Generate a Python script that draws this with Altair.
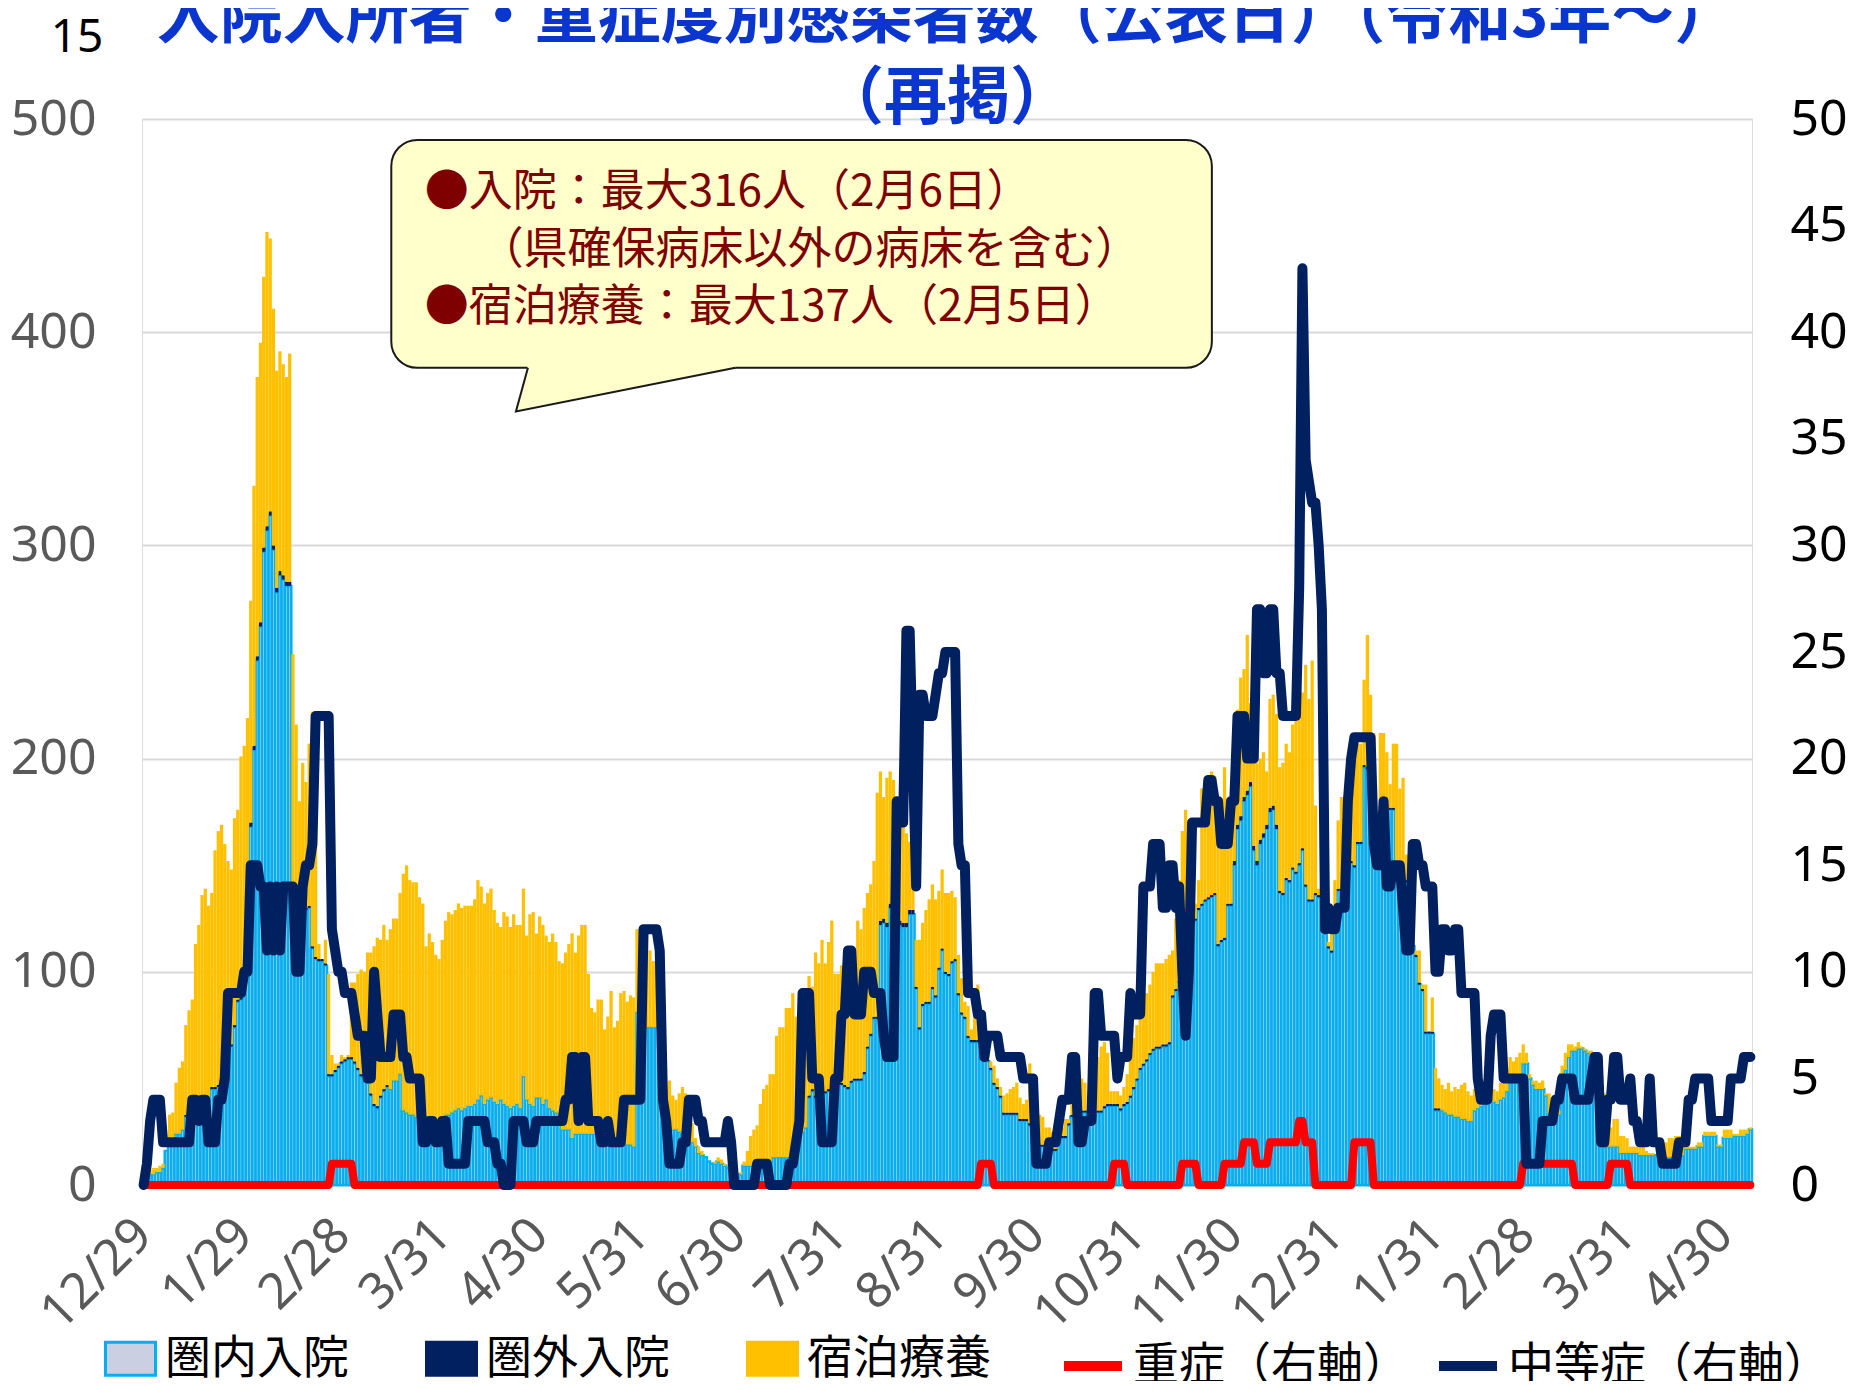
import altair as alt
import pandas as pd

START = pd.Timestamp("2021-12-29")

# total of the stacked bars (入院 + 宿泊療養), daily from 12/29
TOTAL = [
    4, 6, 7, 8, 8, 9, 10, 16, 33, 34,
    48, 55, 58, 75, 82, 87, 113, 122, 136, 139,
    131, 137, 157, 166, 169, 160, 152, 148, 172, 176,
    201, 206, 219, 274, 328, 379, 395, 426, 447, 444,
    411, 382, 391, 385, 379, 390, 249, 216, 180, 198,
    189, 207, 222, 209, 113, 106, 115, 99, 61, 57,
    57, 61, 60, 61, 95, 95, 99, 101, 100, 109,
    109, 112, 116, 115, 122, 115, 120, 125, 125, 137,
    146, 150, 143, 142, 142, 135, 132, 112, 118, 114,
    108, 106, 115, 124, 128, 127, 129, 132, 130, 131,
    131, 131, 134, 143, 140, 132, 137, 139, 129, 123,
    121, 128, 126, 121, 127, 122, 122, 139, 117, 127,
    128, 118, 126, 122, 117, 114, 118, 114, 105, 104,
    109, 113, 118, 109, 117, 122, 122, 99, 83, 81,
    87, 87, 73, 79, 91, 74, 77, 90, 91, 86,
    89, 88, 120, 113, 116, 120, 110, 105, 105, 100,
    49, 45, 49, 42, 40, 43, 46, 43, 40, 29,
    22, 18, 16, 13, 11, 10, 11, 13, 12, 10,
    8, 7, 6, 5, 6, 11, 16, 23, 26, 28,
    38, 45, 47, 52, 52, 70, 74, 74, 83, 83,
    90, 79, 66, 84, 88, 98, 93, 109, 104, 115,
    104, 114, 124, 99, 99, 103, 100, 93, 111, 108,
    124, 120, 130, 137, 141, 152, 184, 194, 182, 191,
    194, 190, 182, 175, 168, 165, 161, 152, 115, 115,
    123, 129, 134, 141, 134, 138, 148, 137, 137, 138,
    135, 108, 97, 86, 84, 73, 80, 94, 71, 68,
    66, 58, 56, 50, 46, 42, 43, 45, 46, 48,
    41, 38, 40, 57, 52, 32, 33, 32, 27, 27,
    25, 29, 31, 27, 31, 31, 48, 58, 54, 50,
    48, 42, 39, 52, 60, 65, 67, 62, 44, 44,
    44, 42, 46, 52, 60, 69, 75, 84, 88, 90,
    94, 100, 104, 104, 104, 106, 108, 110, 125, 143,
    166, 176, 152, 162, 132, 143, 186, 187, 184, 194,
    192, 182, 175, 196, 178, 182, 212, 223, 238, 242,
    258, 226, 205, 198, 200, 203, 194, 228, 230, 221,
    196, 198, 207, 203, 216, 218, 230, 231, 244, 228,
    246, 178, 139, 136, 129, 114, 129, 143, 171, 182,
    182, 175, 187, 203, 207, 207, 237, 258, 230, 212,
    150, 212, 212, 203, 188, 207, 207, 186, 191, 155,
    142, 120, 110, 110, 94, 94, 72, 88, 55, 50,
    47, 45, 48, 44, 46, 45, 47, 48, 44, 42,
    45, 43, 41, 44, 43, 46, 45, 44, 48, 52,
    55, 60, 58, 60, 62, 66, 62, 52, 49, 49,
    48, 49, 43, 43, 36, 35, 35, 56, 62, 66,
    66, 65, 67, 65, 64, 63, 63, 60, 50, 45,
    43, 40, 27, 31, 31, 23, 23, 22, 18, 18,
    18, 18, 18, 16, 15, 15, 14, 15, 18, 20,
    22, 22, 23, 23, 23, 18, 18, 18, 18, 20,
    20, 25, 25, 25, 25, 19, 19, 26, 26, 26,
    24, 24, 26, 26, 26, 27,
]

# 入院 (圏内 + 圏外)
HOSPITAL = [
    3, 4, 5, 5, 6, 6, 8, 16, 18, 20,
    24, 24, 26, 33, 33, 34, 36, 37, 39, 39,
    40, 46, 46, 47, 51, 56, 60, 66, 75, 87,
    88, 90, 115, 170, 206, 248, 264, 299, 309, 316,
    300, 280, 288, 286, 283, 283, 142, 127, 128, 128,
    130, 131, 112, 107, 106, 106, 104, 52, 52, 54,
    56, 58, 59, 60, 60, 58, 55, 52, 57, 49,
    43, 38, 37, 42, 45, 47, 45, 49, 49, 52,
    35, 34, 33, 33, 32, 32, 31, 30, 29, 29,
    30, 31, 32, 33, 33, 34, 35, 36, 35, 36,
    37, 37, 38, 40, 42, 38, 40, 41, 39, 38,
    40, 38, 37, 36, 37, 38, 36, 51, 40, 38,
    37, 41, 41, 38, 40, 36, 35, 34, 30, 26,
    26, 26, 22, 24, 24, 24, 24, 24, 24, 24,
    22, 22, 20, 20, 22, 20, 19, 20, 20, 19,
    19, 18, 81, 80, 74, 74, 74, 74, 74, 73,
    30, 26, 26, 26, 26, 25, 24, 20, 20, 20,
    18, 15, 14, 13, 11, 10, 10, 11, 10, 9,
    8, 7, 6, 5, 5, 9, 9, 9, 10, 10,
    11, 12, 12, 11, 13, 13, 13, 13, 13, 13,
    15, 17, 22, 25, 27, 42, 45, 42, 40, 42,
    44, 45, 46, 47, 48, 48, 47, 46, 49, 50,
    50, 50, 53, 65, 71, 79, 79, 124, 125, 123,
    132, 128, 125, 124, 123, 123, 129, 129, 93, 74,
    85, 86, 86, 93, 89, 102, 111, 100, 99, 105,
    106, 90, 81, 79, 70, 68, 68, 68, 63, 59,
    59, 55, 48, 46, 42, 34, 34, 34, 34, 34,
    31, 31, 31, 29, 29, 25, 19, 19, 19, 17,
    17, 17, 23, 23, 23, 29, 33, 38, 35, 35,
    35, 35, 33, 33, 35, 35, 37, 38, 38, 38,
    38, 36, 38, 39, 42, 46, 50, 55, 57, 59,
    62, 64, 65, 65, 66, 66, 67, 89, 92, 96,
    110, 125, 130, 128, 125, 130, 132, 134, 135, 136,
    137, 113, 115, 116, 132, 132, 152, 169, 173, 182,
    185, 189, 159, 152, 162, 165, 169, 177, 178, 169,
    138, 137, 144, 143, 149, 147, 151, 158, 141, 134,
    134, 137, 136, 120, 119, 112, 110, 130, 139, 139,
    150, 159, 152, 150, 161, 161, 197, 196, 164, 152,
    150, 149, 149, 149, 177, 177, 146, 146, 146, 143,
    140, 113, 108, 95, 92, 72, 72, 72, 36, 36,
    35, 34, 33, 33, 32, 32, 31, 31, 30, 30,
    35, 36, 37, 38, 38, 39, 39, 38, 40, 41,
    44, 48, 48, 48, 48, 57, 57, 50, 47, 45,
    45, 45, 42, 33, 33, 33, 33, 52, 54, 60,
    63, 63, 64, 64, 63, 62, 60, 55, 20, 18,
    18, 18, 18, 18, 18, 15, 15, 15, 15, 15,
    15, 14, 14, 14, 14, 14, 14, 14, 13, 13,
    13, 13, 13, 13, 14, 17, 17, 17, 17, 18,
    18, 23, 23, 23, 23, 18, 18, 22, 22, 22,
    23, 23, 23, 23, 24, 26,
]

# 圏外入院 (part of HOSPITAL)
OUT_OF_AREA = [
    0, 0, 0, 0, 0, 0, 0, 0, 0, 0,
    0, 0, 0, 1, 1, 1, 1, 1, 1, 1,
    1, 1, 1, 1, 1, 1, 1, 1, 1, 1,
    1, 1, 2, 2, 2, 2, 2, 2, 2, 2,
    2, 2, 2, 2, 2, 2, 1, 1, 1, 1,
    1, 1, 1, 1, 1, 1, 1, 1, 1, 1,
    1, 1, 1, 1, 1, 1, 1, 1, 1, 1,
    1, 1, 1, 1, 1, 1, 0, 0, 0, 0,
    0, 0, 0, 0, 0, 0, 0, 0, 0, 0,
    0, 0, 0, 0, 0, 0, 0, 0, 0, 0,
    0, 0, 0, 0, 0, 0, 0, 0, 0, 0,
    0, 0, 0, 0, 0, 0, 0, 0, 0, 0,
    0, 0, 0, 0, 0, 0, 0, 0, 0, 0,
    0, 0, 0, 0, 0, 0, 0, 0, 0, 0,
    0, 0, 0, 0, 0, 0, 0, 0, 0, 0,
    0, 0, 0, 0, 0, 0, 0, 0, 0, 0,
    0, 0, 0, 0, 0, 0, 0, 0, 0, 0,
    0, 0, 0, 0, 0, 0, 0, 0, 0, 0,
    0, 0, 0, 0, 0, 0, 0, 0, 0, 0,
    0, 0, 0, 0, 0, 0, 0, 0, 0, 0,
    0, 0, 0, 0, 0, 1, 1, 1, 1, 1,
    1, 1, 1, 1, 1, 1, 1, 1, 1, 1,
    1, 1, 1, 1, 1, 1, 1, 2, 2, 2,
    2, 2, 2, 2, 2, 2, 2, 2, 1, 1,
    1, 1, 1, 1, 1, 1, 1, 1, 1, 1,
    1, 1, 1, 1, 1, 1, 1, 1, 1, 1,
    1, 1, 1, 1, 1, 1, 1, 1, 1, 1,
    1, 1, 1, 1, 1, 1, 1, 1, 1, 1,
    1, 1, 1, 1, 1, 1, 1, 1, 1, 1,
    1, 1, 1, 1, 1, 1, 1, 1, 1, 1,
    1, 1, 1, 1, 1, 1, 1, 1, 1, 1,
    1, 1, 1, 1, 1, 1, 1, 1, 1, 1,
    1, 1, 1, 1, 1, 1, 1, 1, 1, 1,
    1, 1, 1, 1, 1, 1, 2, 2, 2, 2,
    2, 2, 2, 2, 2, 2, 2, 2, 2, 2,
    1, 1, 1, 1, 1, 1, 1, 1, 1, 1,
    1, 1, 1, 1, 1, 1, 1, 1, 1, 1,
    1, 1, 1, 1, 1, 1, 1, 1, 1, 1,
    1, 1, 1, 1, 1, 1, 1, 1, 1, 1,
    1, 1, 1, 1, 1, 1, 1, 1, 1, 1,
    0, 0, 0, 0, 0, 0, 0, 0, 0, 0,
    0, 0, 0, 0, 0, 0, 0, 0, 0, 0,
    0, 0, 0, 0, 0, 0, 0, 0, 0, 0,
    0, 0, 0, 0, 0, 0, 0, 0, 0, 0,
    0, 0, 0, 0, 0, 0, 0, 0, 0, 0,
    0, 0, 0, 0, 0, 0, 0, 0, 0, 0,
    0, 0, 0, 0, 0, 0, 0, 0, 0, 0,
    0, 0, 0, 0, 0, 0, 0, 0, 0, 0,
    0, 0, 0, 0, 0, 0, 0, 0, 0, 0,
    0, 0, 0, 0, 0, 0,
]

# 中等症 (right axis)
MODERATE = [
    0, 1, 3, 4, 4, 4, 2, 2, 2, 2,
    2, 2, 2, 2, 2, 4, 4, 3, 4, 4,
    2, 2, 2, 4, 4, 5, 9, 9, 9, 9,
    9, 10, 10, 15, 15, 15, 14, 14, 11, 14,
    11, 14, 11, 14, 14, 14, 14, 10, 10, 14,
    15, 15, 16, 22, 22, 22, 22, 22, 12, 11,
    10, 10, 9, 9, 9, 8, 7, 7, 7, 5,
    5, 10, 8, 6, 6, 6, 6, 8, 8, 8,
    6, 6, 5, 5, 5, 5, 2, 2, 3, 3,
    2, 2, 3, 3, 1, 1, 1, 1, 1, 1,
    3, 3, 3, 3, 3, 3, 2, 2, 2, 1,
    1, 0, 0, 0, 3, 3, 3, 3, 2, 2,
    2, 3, 3, 3, 3, 3, 3, 3, 3, 3,
    4, 4, 6, 6, 3, 6, 6, 3, 3, 3,
    3, 2, 2, 3, 2, 2, 2, 2, 4, 4,
    4, 4, 4, 4, 12, 12, 12, 12, 12, 11,
    4, 3, 1, 1, 1, 1, 2, 2, 4, 4,
    4, 3, 3, 2, 2, 2, 2, 2, 2, 2,
    3, 2, 0, 0, 0, 0, 0, 0, 0, 1,
    1, 1, 1, 0, 0, 0, 0, 0, 0, 1,
    1, 2, 3, 9, 9, 9, 5, 5, 5, 2,
    2, 2, 2, 5, 5, 8, 8, 11, 11, 8,
    8, 8, 10, 10, 10, 9, 9, 9, 7, 6,
    6, 6, 18, 17, 17, 26, 26, 20, 14, 23,
    23, 22, 22, 22, 23, 24, 24, 25, 25, 25,
    25, 16, 15, 15, 9, 9, 9, 8, 8, 6,
    7, 7, 7, 7, 6, 6, 6, 6, 6, 6,
    6, 5, 5, 5, 5, 1, 1, 1, 1, 2,
    2, 2, 3, 4, 4, 4, 6, 6, 2, 2,
    3, 3, 3, 9, 9, 7, 7, 7, 7, 7,
    5, 6, 6, 6, 9, 8, 8, 8, 14, 14,
    14, 16, 16, 16, 13, 13, 15, 15, 13, 14,
    10, 7, 10, 17, 17, 17, 17, 17, 19, 19,
    18, 18, 16, 16, 16, 18, 18, 22, 22, 22,
    20, 20, 20, 27, 27, 24, 24, 27, 27, 24,
    24, 22, 22, 22, 22, 22, 28, 43, 34, 33,
    32, 32, 30, 27, 12, 13, 12, 12, 13, 13,
    13, 18, 20, 21, 21, 21, 21, 21, 21, 16,
    15, 15, 18, 14, 14, 15, 15, 15, 13, 11,
    11, 16, 16, 15, 15, 14, 14, 14, 10, 10,
    12, 12, 11, 11, 12, 12, 9, 9, 9, 9,
    9, 5, 4, 4, 4, 7, 8, 8, 8, 5,
    5, 5, 5, 5, 5, 5, 1, 1, 1, 1,
    1, 3, 3, 3, 3, 4, 4, 5, 5, 5,
    5, 4, 4, 4, 4, 4, 5, 6, 6, 2,
    2, 4, 4, 6, 6, 4, 4, 4, 5, 3,
    3, 2, 2, 2, 5, 2, 2, 2, 1, 1,
    1, 1, 1, 2, 2, 2, 4, 4, 5, 5,
    5, 5, 5, 3, 3, 3, 3, 3, 3, 5,
    5, 5, 5, 6, 6, 6,
]

# 重症 (right axis)
SEVERE = [
    0, 0, 0, 0, 0, 0, 0, 0, 0, 0,
    0, 0, 0, 0, 0, 0, 0, 0, 0, 0,
    0, 0, 0, 0, 0, 0, 0, 0, 0, 0,
    0, 0, 0, 0, 0, 0, 0, 0, 0, 0,
    0, 0, 0, 0, 0, 0, 0, 0, 0, 0,
    0, 0, 0, 0, 0, 0, 0, 0, 1, 1,
    1, 1, 1, 1, 1, 0, 0, 0, 0, 0,
    0, 0, 0, 0, 0, 0, 0, 0, 0, 0,
    0, 0, 0, 0, 0, 0, 0, 0, 0, 0,
    0, 0, 0, 0, 0, 0, 0, 0, 0, 0,
    0, 0, 0, 0, 0, 0, 0, 0, 0, 0,
    0, 0, 0, 0, 0, 0, 0, 0, 0, 0,
    0, 0, 0, 0, 0, 0, 0, 0, 0, 0,
    0, 0, 0, 0, 0, 0, 0, 0, 0, 0,
    0, 0, 0, 0, 0, 0, 0, 0, 0, 0,
    0, 0, 0, 0, 0, 0, 0, 0, 0, 0,
    0, 0, 0, 0, 0, 0, 0, 0, 0, 0,
    0, 0, 0, 0, 0, 0, 0, 0, 0, 0,
    0, 0, 0, 0, 0, 0, 0, 0, 0, 0,
    0, 0, 0, 0, 0, 0, 0, 0, 0, 0,
    0, 0, 0, 0, 0, 0, 0, 0, 0, 0,
    0, 0, 0, 0, 0, 0, 0, 0, 0, 0,
    0, 0, 0, 0, 0, 0, 0, 0, 0, 0,
    0, 0, 0, 0, 0, 0, 0, 0, 0, 0,
    0, 0, 0, 0, 0, 0, 0, 0, 0, 0,
    0, 0, 0, 0, 0, 0, 0, 0, 1, 1,
    1, 1, 0, 0, 0, 0, 0, 0, 0, 0,
    0, 0, 0, 0, 0, 0, 0, 0, 0, 0,
    0, 0, 0, 0, 0, 0, 0, 0, 0, 0,
    0, 0, 0, 0, 0, 0, 0, 0, 0, 1,
    1, 1, 1, 0, 0, 0, 0, 0, 0, 0,
    0, 0, 0, 0, 0, 0, 0, 0, 0, 0,
    1, 1, 1, 1, 1, 0, 0, 0, 0, 0,
    0, 0, 0, 1, 1, 1, 1, 1, 1, 2,
    2, 2, 2, 1, 1, 1, 1, 2, 2, 2,
    2, 2, 2, 2, 2, 2, 3, 3, 2, 2,
    2, 0, 0, 0, 0, 0, 0, 0, 0, 0,
    0, 0, 0, 2, 2, 2, 2, 2, 2, 0,
    0, 0, 0, 0, 0, 0, 0, 0, 0, 0,
    0, 0, 0, 0, 0, 0, 0, 0, 0, 0,
    0, 0, 0, 0, 0, 0, 0, 0, 0, 0,
    0, 0, 0, 0, 0, 0, 0, 0, 0, 0,
    0, 0, 0, 0, 0, 1, 1, 1, 1, 1,
    1, 1, 1, 1, 1, 1, 1, 1, 1, 1,
    1, 0, 0, 0, 0, 0, 0, 0, 0, 0,
    0, 0, 1, 1, 1, 1, 1, 1, 0, 0,
    0, 0, 0, 0, 0, 0, 0, 0, 0, 0,
    0, 0, 0, 0, 0, 0, 0, 0, 0, 0,
    0, 0, 0, 0, 0, 0, 0, 0, 0, 0,
    0, 0, 0, 0, 0, 0,
]

TICK_DATES = [
    "2021-12-29", "2022-01-29", "2022-02-28", "2022-03-31", "2022-04-30",
    "2022-05-31", "2022-06-30", "2022-07-31", "2022-08-31", "2022-09-30",
    "2022-10-31", "2022-11-30", "2022-12-31", "2023-01-31", "2023-02-28",
    "2023-03-31", "2023-04-30",
]
LEFT_TICKS = [0, 100, 200, 300, 400, 500]
RIGHT_TICKS = [0, 5, 10, 15, 20, 25, 30, 35, 40, 45, 50]

BAR_SERIES = ["圏内入院", "圏外入院", "宿泊療養"]
LINE_SERIES = ["重症（右軸）", "中等症（右軸）"]
TITLE_LINES = ["入院入所者・重症度別感染者数（公表日）（令和3年～）", "（再掲）"]
NOTE_LINES = ["●入院：最大316人（2月6日）", "（県確保病床以外の病床を含む）", "●宿泊療養：最大137人（2月5日）"]
PAGE_NO = "15"

n = len(TOTAL)
for arr in (HOSPITAL, OUT_OF_AREA, MODERATE, SEVERE):
    assert len(arr) == n, (len(arr), n)

CJK = "Noto Sans CJK JP"
NUM = "Noto Sans"


def ts(d):
    return (START + pd.Timedelta(days=d)).strftime("%Y-%m-%dT%H:%M:%S")


def dt(d):
    t = START + pd.Timedelta(days=d)
    return alt.DateTime(year=t.year, month=t.month, date=t.day, hours=t.hour, minutes=t.minute)


# ---- bar table (drawing order: 圏内, 圏外, 宿泊) ----
rows = []
for i in range(n):
    inner = HOSPITAL[i] - OUT_OF_AREA[i]
    rows.append(dict(series=BAR_SERIES[0], x0=ts(i - 0.5), x1=ts(i + 0.5), y0=0, y1=inner))
for i in range(n):
    if OUT_OF_AREA[i] > 0:
        inner = HOSPITAL[i] - OUT_OF_AREA[i]
        rows.append(dict(series=BAR_SERIES[1], x0=ts(i - 0.5), x1=ts(i + 0.5), y0=inner, y1=HOSPITAL[i]))
for i in range(n):
    top = max(TOTAL[i], HOSPITAL[i])
    if top > HOSPITAL[i]:
        rows.append(dict(series=BAR_SERIES[2], x0=ts(i - 0.5), x1=ts(i + 0.5), y0=HOSPITAL[i], y1=top))
bar_df = pd.DataFrame(rows)

line_df = pd.DataFrame(
    [dict(series=LINE_SERIES[0], x=ts(i), v=SEVERE[i]) for i in range(n)]
    + [dict(series=LINE_SERIES[1], x=ts(i), v=MODERATE[i]) for i in range(n)]
)

xscale = alt.Scale(domain=[dt(-0.5), dt(n - 0.5)])
yl = alt.Scale(domain=[0, 500], nice=False, zero=True)
yr = alt.Scale(domain=[0, 50], nice=False, zero=True)

x_axis = alt.Axis(
    values=[dt((pd.Timestamp(s) - START).days) for s in TICK_DATES],
    format="%-m/%-d", labelAngle=-45, labelAlign="right", labelBaseline="middle",
    labelFont=NUM, labelFontSize=50, labelColor="#595959", labelPadding=42,
    ticks=False, domain=False, grid=False, labelOverlap=False, labelFlush=False, title=None,
)
yl_axis = alt.Axis(
    values=LEFT_TICKS, grid=True, gridColor="#D9D9D9", gridWidth=2, ticks=False, domain=False,
    labelFont=NUM, labelFontSize=50, labelColor="#595959", labelPadding=46, title=None,
)
yr_axis = alt.Axis(
    values=RIGHT_TICKS, orient="right", grid=False, ticks=False, domain=False,
    labelFont=NUM, labelFontSize=50, labelColor="#000000", labelPadding=38, title=None,
)


def X(field):
    return alt.X(field, type="temporal", scale=xscale, axis=x_axis, title=None)


def YL(field):
    return alt.Y(field, type="quantitative", scale=yl, axis=yl_axis, title=None)


def YR(field):
    return alt.Y(field, type="quantitative", scale=yr, axis=yr_axis, title=None)


bar_legend = alt.Legend(
    orient="none", legendX=-38, legendY=1213, direction="horizontal", title=None,
    labelFont=CJK, labelFontSize=46, labelColor="#000000", labelLimit=500,
    symbolType="M-1,-0.66H1V0.66H-1Z", symbolSize=2500, symbolStrokeWidth=3,
    columnPadding=71, labelOffset=8, padding=0,
)
line_legend = alt.Legend(
    orient="none", legendX=917, legendY=1213, direction="horizontal", title=None,
    labelFont=CJK, labelFontSize=46, labelColor="#000000", labelLimit=500,
    symbolType="stroke", symbolSize=3364, symbolStrokeWidth=10,
    columnPadding=10, labelOffset=6, padding=0,
)

bars = alt.Chart(bar_df).mark_bar().encode(
    x=X("x0"),
    x2="x1:T",
    y=YL("y0"),
    y2="y1:Q",
    fill=alt.Fill("series:N", scale=alt.Scale(domain=BAR_SERIES, range=["#CBCFE2", "#002060", "#FFC000"]),
                  legend=bar_legend),
    stroke=alt.Stroke("series:N", scale=alt.Scale(domain=BAR_SERIES, range=["#00B0F0", "#002060", "#FFC000"]),
                      legend=bar_legend),
    strokeWidth=alt.condition(alt.datum.series == BAR_SERIES[0], alt.value(2.5), alt.value(0)),
)

# ---- callout (placed in data space) ----
BOX = dict(d0=76.3, d1=329.1, v0=383.3, v1=490.2)
TIP = (114.7, 362.8)
BASE_L, BASE_R = 118.4, 182.3

box_df = pd.DataFrame([dict(x0=ts(BOX["d0"]), x1=ts(BOX["d1"]), y0=BOX["v0"], y1=BOX["v1"])])
box = alt.Chart(box_df).mark_rect(fill="#FFFFCC", stroke="#1A1A1A", strokeWidth=2, cornerRadius=26).encode(
    x=X("x0"), x2="x1:T", y=YL("y0"), y2="y1:Q",
)
lower_at_base_l = TIP[1] + (BASE_L - TIP[0]) / (BASE_R - TIP[0]) * (BOX["v0"] - TIP[1])
tail_fill_df = pd.DataFrame([
    dict(x=ts(TIP[0]), y=TIP[1], y2=TIP[1]),
    dict(x=ts(BASE_L), y=BOX["v0"] + 1.2, y2=lower_at_base_l),
    dict(x=ts(BASE_R), y=BOX["v0"] + 1.2, y2=BOX["v0"]),
])
tail_fill = alt.Chart(tail_fill_df).mark_area(fill="#FFFFCC", interpolate="linear").encode(
    x=X("x"), y=YL("y"), y2="y2:Q",
)
tail_line_df = pd.DataFrame([
    dict(o=0, x=ts(BASE_L), y=BOX["v0"]),
    dict(o=1, x=ts(TIP[0]), y=TIP[1]),
    dict(o=2, x=ts(BASE_R), y=BOX["v0"]),
])
tail_line = alt.Chart(tail_line_df).mark_line(color="#1A1A1A", strokeWidth=2).encode(
    x=X("x"), y=YL("y"), order="o:Q",
)
note_df = pd.DataFrame([
    dict(x=ts(86.6), y=465.2, t=NOTE_LINES[0]),
    dict(x=ts(103.5), y=437.9, t=NOTE_LINES[1]),
    dict(x=ts(86.6), y=411.2, t=NOTE_LINES[2]),
])
notes = alt.Chart(note_df).mark_text(align="left", baseline="middle", font=CJK, fontSize=44,
                                     color="#7F0000").encode(
    x=X("x"), y=YL("y"), text="t:N",
)
page_df = pd.DataFrame([dict(x=ts(-20.5), y=538, t=PAGE_NO)])
page = alt.Chart(page_df).mark_text(align="center", baseline="middle", font=NUM, fontSize=46,
                                    color="#000000").encode(
    x=X("x"), y=YL("y"), text="t:N",
)
# chart title, drawn as text above the plot area (line centres in left-axis units)
title_df = pd.DataFrame([
    dict(x=ts((n - 1) / 2), y=547.5, t=TITLE_LINES[0]),
    dict(x=ts((n - 1) / 2), y=509.5, t=TITLE_LINES[1]),
])
title = alt.Chart(title_df).mark_text(align="center", baseline="middle", font=CJK, fontSize=63,
                                      fontWeight="bold", color="#0A35CF").encode(
    x=X("x"), y=YL("y"), text="t:N",
)

line_color = alt.Color("series:N", scale=alt.Scale(domain=LINE_SERIES, range=["#FF0000", "#002060"]),
                       legend=line_legend)
severe = alt.Chart(line_df[line_df.series == LINE_SERIES[0]]).mark_line(
    strokeWidth=8, strokeCap="round", strokeJoin="round").encode(
    x=X("x"), y=YR("v"), color=line_color,
)
moderate = alt.Chart(line_df[line_df.series == LINE_SERIES[1]]).mark_line(
    strokeWidth=10, strokeCap="round", strokeJoin="round").encode(
    x=X("x"), y=YR("v"), color=line_color,
)

left = alt.layer(bars, box, tail_fill, tail_line, notes, page, title)
right = alt.layer(severe, moderate)

chart = alt.layer(left, right).resolve_scale(y="independent").properties(
    width=1610, height=1066,
    padding={"left": 134, "top": 111, "right": 100, "bottom": 196},
    autosize=alt.AutoSizeParams(type="none"),
).configure_view(stroke=None).configure(font=CJK)

chart.save("out.html", embed_options={"renderer": "svg", "actions": False})
